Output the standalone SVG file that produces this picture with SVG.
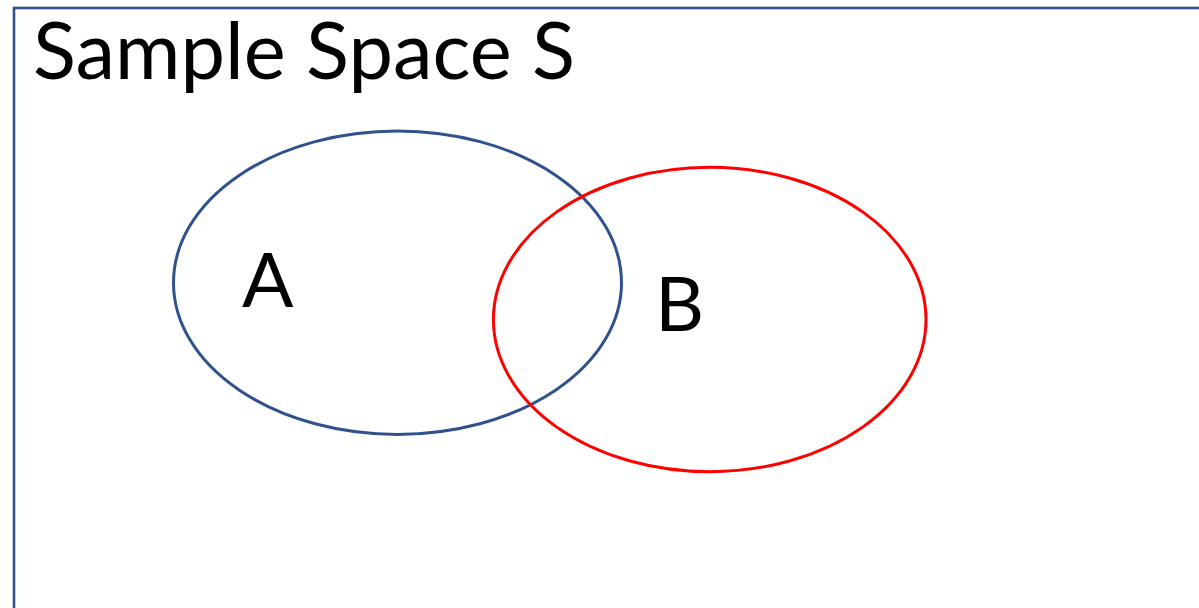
<svg xmlns="http://www.w3.org/2000/svg" width="1199" height="608" viewBox="0 0 1199 608">
<style>
.lbl{font-family:Lato,"Open Sans",sans-serif;fill:#000}
.set{fill:none;stroke-width:3}
</style>
<rect x="0" y="0" width="1199" height="608" fill="#fff"/>
<g id="sample-space">
<rect x="14" y="8" width="1200" height="620" fill="none" stroke="#2F528F" stroke-width="2.6"/>
<text class="lbl" x="33" y="79" font-size="79.5">Sample Space S</text>
</g>
<g id="set-A">
<ellipse class="set" cx="397.5" cy="282.7" rx="224" ry="151.7" stroke="#2F528F"/>
<text class="lbl" x="242" y="306.7" font-size="76">A</text>
</g>
<g id="set-B">
<ellipse class="set" cx="709.7" cy="319.5" rx="216.3" ry="152.2" stroke="#FF0000"/>
<text class="lbl" x="655" y="330.7" font-size="76">B</text>
</g>
<g id="connectors"/>
</svg>
